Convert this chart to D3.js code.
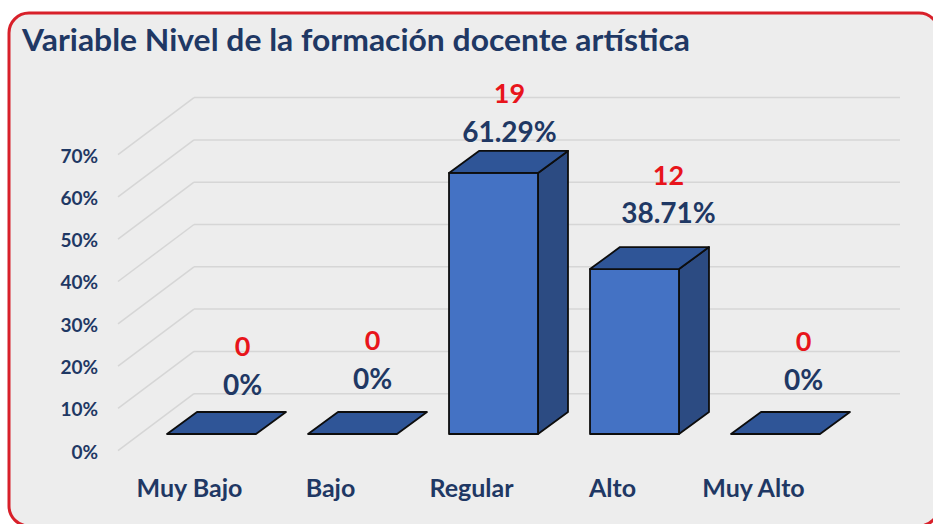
<!DOCTYPE html>
<html>
<head>
<meta charset="UTF-8">
<title>Variable Nivel de la formación docente artística</title>
<style>
body { margin: 0; background: #fff; }
text { font-family: Lato, "Open Sans", sans-serif; font-weight: bold; }
</style>
</head>
<body>
<svg width="933" height="524"></svg>
<script src="https://d3js.org/d3.v7.min.js"></script>
<script>
// data
var categories = ["Muy Bajo", "Bajo", "Regular", "Alto", "Muy Alto"];
var counts = [0, 0, 19, 12, 0];
var percents = [0, 0, 0.6129, 0.3871, 0];
var yTicks = [0, 0.1, 0.2, 0.3, 0.4, 0.5, 0.6, 0.7];
var gridValues = [0.1, 0.2, 0.3, 0.4, 0.5, 0.6, 0.7, 0.8];
var title = "Variable Nivel de la formación docente artística";

var navy = "#1f3864", red = "#e8141b";

var svg = d3.select("svg"),
    width = +svg.attr("width"),
    height = +svg.attr("height");

// panel
svg.append("rect")
  .attr("x", 0).attr("y", 0).attr("width", width).attr("height", height)
  .attr("fill", "#fff");
svg.append("rect")
  .attr("x", 9).attr("y", 13).attr("width", 930).attr("height", 513)
  .attr("rx", 20).attr("ry", 20)
  .attr("fill", "#ededed")
  .attr("stroke", "#d8202a").attr("stroke-width", 3);

svg.append("text")
  .attr("x", 22).attr("y", 51)
  .attr("textLength", 668).attr("lengthAdjust", "spacingAndGlyphs")
  .attr("font-size", 30).attr("fill", navy)
  .text(title);

// scales
var x = d3.scaleBand().domain(categories).range([141, 846])
  .paddingInner(0.369).paddingOuter(0.1845);
var yFront = d3.scaleLinear().domain([0, 0.8]).range([434, 93.2]);
var yBack = d3.scaleLinear().domain([0, 0.8]).range([436, 97.6]);

var wallLeft = 118, wallBack = 194, wallRight = 900, wallDrop = 57;
var depthX = 30, depthY = -22;

// walls
var grid = svg.append("g").attr("stroke", "#d6d6d6").attr("stroke-width", 1.5).attr("fill", "none");
grid.selectAll("line.back").data(gridValues).enter().append("line")
  .attr("class", "back")
  .attr("x1", wallBack).attr("x2", wallRight)
  .attr("y1", function(d) { return yBack(d); })
  .attr("y2", function(d) { return yBack(d); });
grid.selectAll("line.side").data(gridValues).enter().append("line")
  .attr("class", "side")
  .attr("x1", wallLeft).attr("x2", wallBack)
  .attr("y1", function(d) { return yBack(d) + wallDrop; })
  .attr("y2", function(d) { return yBack(d); });

// y axis labels
svg.selectAll("text.ytick").data(yTicks).enter().append("text")
  .attr("class", "ytick")
  .attr("x", 98)
  .attr("y", function(d) { return yBack(d) + 16; })
  .attr("dy", "0.35em")
  .attr("text-anchor", "end")
  .attr("font-size", 19).attr("fill", navy)
  .text(d3.format(".0%"));

// bars
var rows = categories.map(function(c, i) {
  return { cat: c, count: counts[i], pct: percents[i], i: i };
});

var bars = svg.selectAll("g.bar").data(rows).enter().append("g")
  .attr("class", "bar")
  .attr("stroke", "#0d0d0d").attr("stroke-width", 1.8).attr("stroke-linejoin", "round");

bars.each(function(d) {
  var g = d3.select(this);
  var x0 = x(d.cat), x1 = x0 + x.bandwidth();
  var yt = yFront(d.pct), yb = yFront(0);
  if (yb - yt > 0.5) {
    g.append("polygon")
      .attr("points", [[x1, yt], [x1 + depthX, yt + depthY], [x1 + depthX, yb + depthY], [x1, yb]].join(" "))
      .attr("fill", "#2c4b82");
    g.append("rect")
      .attr("x", x0).attr("y", yt).attr("width", x1 - x0).attr("height", yb - yt)
      .attr("fill", "#4472c4");
  }
  g.append("polygon")
    .attr("points", [[x0, yt], [x1, yt], [x1 + depthX, yt + depthY], [x0 + depthX, yt + depthY]].join(" "))
    .attr("fill", "#2f5597");
});

// label nudges (Excel places 3D labels unevenly)
var labelDx = [31, 20, 16, 34, 28];
var labelDy = [-49, -55, -41, -56, -54];

svg.selectAll("text.pct").data(rows).enter().append("text")
  .attr("class", "pct")
  .attr("x", function(d) { return x(d.cat) + x.bandwidth() / 2 + labelDx[d.i]; })
  .attr("y", function(d) { return yFront(d.pct) + labelDy[d.i]; })
  .attr("dy", "0.35em")
  .attr("text-anchor", "middle")
  .attr("font-size", 28).attr("fill", navy)
  .text(function(d) { return d.pct === 0 ? "0%" : d3.format(".2%")(d.pct); });

svg.selectAll("text.count").data(rows).enter().append("text")
  .attr("class", "count")
  .attr("x", function(d) { return x(d.cat) + x.bandwidth() / 2 + labelDx[d.i]; })
  .attr("y", function(d) { return yFront(d.pct) + labelDy[d.i] - 38; })
  .attr("dy", "0.35em")
  .attr("text-anchor", "middle")
  .attr("font-size", 27).attr("fill", red)
  .text(function(d) { return d.count; });

// category labels
svg.selectAll("text.cat").data(categories).enter().append("text")
  .attr("class", "cat")
  .attr("x", function(d) { return x(d) + x.bandwidth() / 2 - 22; })
  .attr("y", 497)
  .attr("text-anchor", "middle")
  .attr("font-size", 25).attr("fill", navy)
  .text(function(d) { return d; });
</script>
</body>
</html>
